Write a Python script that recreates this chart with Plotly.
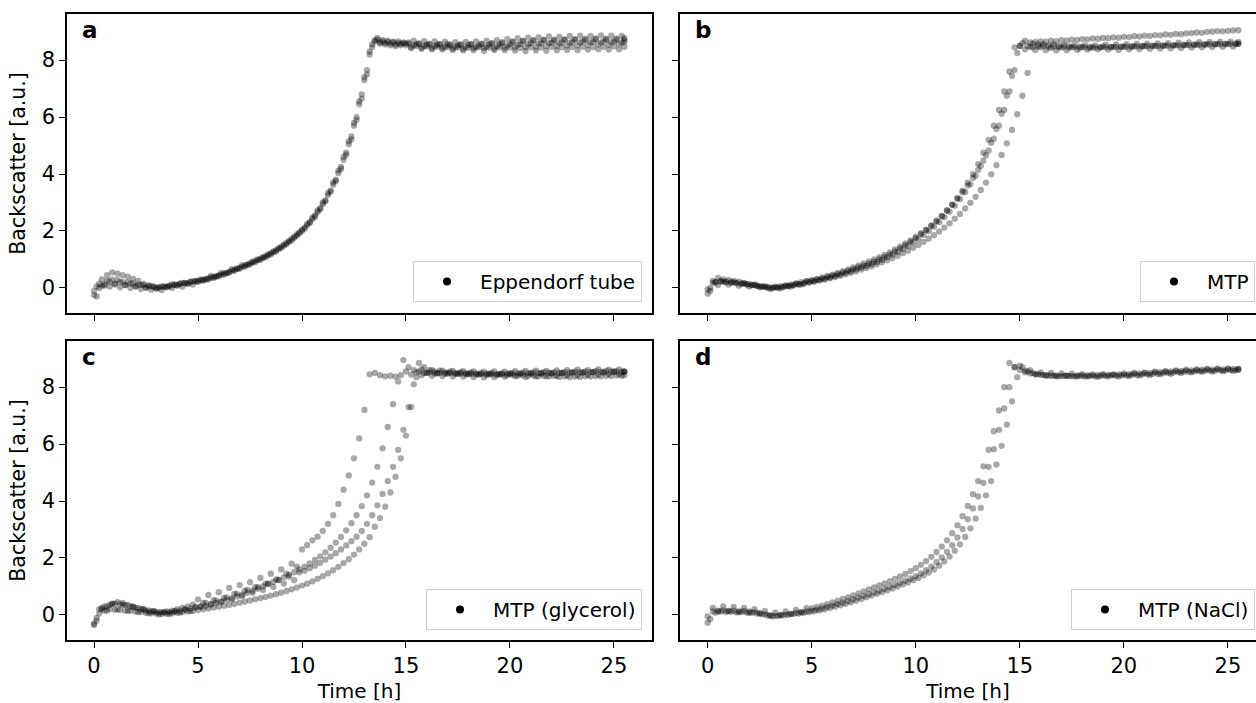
import plotly.graph_objects as go

# ---------------- data ----------------
# measurement times [h] of the first plate read, one row = 2.5 h
TIME_H = [
    0.0, 0.25, 0.5, 0.75, 1.0, 1.25, 1.5, 1.75, 2.0, 2.25,
    2.5, 2.75, 3.0, 3.25, 3.5, 3.75, 4.0, 4.25, 4.5, 4.75,
    5.0, 5.25, 5.5, 5.75, 6.0, 6.25, 6.5, 6.75, 7.0, 7.25,
    7.5, 7.75, 8.0, 8.25, 8.5, 8.75, 9.0, 9.25, 9.5, 9.75,
    10.0, 10.25, 10.5, 10.75, 11.0, 11.25, 11.5, 11.75, 12.0, 12.25,
    12.5, 12.75, 13.0, 13.25, 13.5, 13.75, 14.0, 14.25, 14.5, 14.75,
    15.0, 15.25, 15.5, 15.75, 16.0, 16.25, 16.5, 16.75, 17.0, 17.25,
    17.5, 17.75, 18.0, 18.25, 18.5, 18.75, 19.0, 19.25, 19.5, 19.75,
    20.0, 20.25, 20.5, 20.75, 21.0, 21.25, 21.5, 21.75, 22.0, 22.25,
    22.5, 22.75, 23.0, 23.25, 23.5, 23.75, 24.0, 24.25, 24.5, 24.75,
    25.0, 25.25, 25.5,
]
# measurement times [h] of the second (interleaved) plate read
TIME_H_B = [
    0.125, 0.375, 0.625, 0.875, 1.125, 1.375, 1.625, 1.875, 2.125, 2.375,
    2.625, 2.875, 3.125, 3.375, 3.625, 3.875, 4.125, 4.375, 4.625, 4.875,
    5.125, 5.375, 5.625, 5.875, 6.125, 6.375, 6.625, 6.875, 7.125, 7.375,
    7.625, 7.875, 8.125, 8.375, 8.625, 8.875, 9.125, 9.375, 9.625, 9.875,
    10.125, 10.375, 10.625, 10.875, 11.125, 11.375, 11.625, 11.875, 12.125, 12.375,
    12.625, 12.875, 13.125, 13.375, 13.625, 13.875, 14.125, 14.375, 14.625, 14.875,
    15.125, 15.375, 15.625, 15.875, 16.125, 16.375, 16.625, 16.875, 17.125, 17.375,
    17.625, 17.875, 18.125, 18.375, 18.625, 18.875, 19.125, 19.375, 19.625, 19.875,
    20.125, 20.375, 20.625, 20.875, 21.125, 21.375, 21.625, 21.875, 22.125, 22.375,
    22.625, 22.875, 23.125, 23.375, 23.625, 23.875, 24.125, 24.375, 24.625, 24.875,
    25.125, 25.375, 25.5,
]

# (a) Eppendorf tube replicates
EPP_1 = [
    -0.25, 0.15, 0.08, 0.22, 0.12, 0.2, 0.1, 0.16, 0.05, 0.1,
    0.0, 0.06, -0.03, 0.05, 0.02, 0.12, 0.08, 0.18, 0.14, 0.24,
    0.25, 0.29, 0.34, 0.39, 0.45, 0.51, 0.57, 0.64, 0.71, 0.79,
    0.87, 0.95, 1.03, 1.12, 1.22, 1.33, 1.45, 1.58, 1.72, 1.88,
    2.05, 2.25, 2.47, 2.72, 3.0, 3.33, 3.7, 4.12, 4.6, 5.15,
    5.8, 6.55, 7.4, 8.3, 8.7, 8.62, 8.6, 8.58, 8.55, 8.57,
    8.58, 8.46, 8.56, 8.44, 8.55, 8.42, 8.54, 8.43, 8.56, 8.41,
    8.52, 8.4, 8.53, 8.42, 8.51, 8.43, 8.54, 8.41, 8.55, 8.44,
    8.56, 8.45, 8.57, 8.46, 8.6, 8.47, 8.6, 8.5, 8.61, 8.5,
    8.62, 8.51, 8.64, 8.52, 8.65, 8.53, 8.64, 8.55, 8.66, 8.54,
    8.65, 8.56, 8.64,
]
EPP_2 = [
    0.05, 0.3, 0.45, 0.55, 0.5, 0.45, 0.4, 0.32, 0.25, 0.15,
    0.1, 0.05, 0.02, 0.05, 0.08, 0.12, 0.15, 0.18, 0.22, 0.25,
    0.3, 0.3, 0.42, 0.4, 0.53, 0.52, 0.66, 0.68, 0.8, 0.82,
    0.92, 1.0, 1.08, 1.18, 1.28, 1.4, 1.52, 1.65, 1.8, 1.95,
    2.12, 2.32, 2.55, 2.8, 3.08, 3.42, 3.8, 4.25, 4.75, 5.32,
    6.0, 6.8, 7.65, 8.55, 8.78, 8.7, 8.68, 8.65, 8.66, 8.62,
    8.58, 8.68, 8.56, 8.67, 8.54, 8.66, 8.55, 8.65, 8.52, 8.63,
    8.55, 8.64, 8.56, 8.66, 8.58, 8.68, 8.6, 8.7, 8.63, 8.74,
    8.66, 8.77, 8.68, 8.79, 8.7, 8.8, 8.71, 8.83, 8.72, 8.82,
    8.73, 8.85, 8.74, 8.86, 8.75, 8.85, 8.76, 8.87, 8.75, 8.86,
    8.76, 8.85, 8.77,
]
EPP_3 = [
    -0.1, 0.0, 0.12, 0.05, 0.15, 0.02, 0.1, 0.0, 0.06, -0.04,
    0.02, -0.06, 0.0, -0.07, 0.04, 0.0, 0.1, 0.05, 0.16, 0.12,
    0.21, 0.25, 0.3, 0.35, 0.41, 0.47, 0.53, 0.6, 0.67, 0.74,
    0.82, 0.9, 0.98, 1.07, 1.17, 1.28, 1.4, 1.53, 1.67, 1.83,
    2.0, 2.2, 2.42, 2.66, 2.94, 3.26, 3.62, 4.03, 4.5, 5.05,
    5.7, 6.45, 7.3, 8.2, 8.65, 8.58, 8.55, 8.52, 8.5, 8.52,
    8.52, 8.42, 8.5, 8.4, 8.48, 8.38, 8.47, 8.37, 8.46, 8.36,
    8.45, 8.34, 8.44, 8.35, 8.45, 8.33, 8.44, 8.36, 8.45, 8.35,
    8.44, 8.34, 8.43, 8.32, 8.45, 8.34, 8.44, 8.33, 8.46, 8.35,
    8.45, 8.36, 8.46, 8.35, 8.47, 8.37, 8.46, 8.38, 8.47, 8.37,
    8.48, 8.38, 8.47,
]
EPP_4 = [
    -0.3, 0.08, 0.25, 0.3, 0.28, 0.22, 0.2, 0.16, 0.12, 0.1,
    0.06, 0.03, 0.02, 0.04, 0.07, 0.11, 0.14, 0.17, 0.2, 0.23,
    0.27, 0.31, 0.36, 0.41, 0.47, 0.53, 0.6, 0.67, 0.74, 0.82,
    0.9, 0.98, 1.06, 1.15, 1.25, 1.36, 1.48, 1.62, 1.76, 1.92,
    2.08, 2.28, 2.5, 2.76, 3.04, 3.38, 3.75, 4.18, 4.68, 5.22,
    5.9, 6.65, 7.5, 8.45, 8.72, 8.66, 8.64, 8.62, 8.6, 8.6,
    8.62, 8.52, 8.6, 8.5, 8.58, 8.49, 8.57, 8.47, 8.55, 8.46,
    8.54, 8.45, 8.55, 8.46, 8.56, 8.47, 8.58, 8.49, 8.6, 8.51,
    8.63, 8.54, 8.66, 8.56, 8.68, 8.58, 8.7, 8.6, 8.69, 8.6,
    8.71, 8.61, 8.72, 8.62, 8.71, 8.63, 8.73, 8.62, 8.72, 8.63,
    8.72, 8.62, 8.71,
]

# (b) MTP replicates
MTP_1 = [
    -0.2, 0.18, 0.1, 0.22, 0.12, 0.2, 0.08, 0.16, 0.05, 0.12,
    0.02, 0.06, -0.04, 0.04, -0.01, 0.08, 0.05, 0.15, 0.12, 0.24,
    0.25, 0.29, 0.33, 0.38, 0.43, 0.48, 0.54, 0.6, 0.66, 0.72,
    0.78, 0.85, 0.92, 1.0, 1.09, 1.18, 1.28, 1.39, 1.5, 1.62,
    1.75, 1.89, 2.03, 2.18, 2.34, 2.52, 2.72, 2.93, 3.16, 3.42,
    3.7, 4.0, 4.35, 4.75, 5.2, 5.7, 6.25, 6.9, 7.6, 8.45,
    8.5, 8.38, 8.46, 8.36, 8.45, 8.35, 8.43, 8.34, 8.44, 8.35,
    8.45, 8.36, 8.46, 8.37, 8.45, 8.38, 8.47, 8.37, 8.46, 8.36,
    8.47, 8.38, 8.48, 8.39, 8.49, 8.4, 8.5, 8.41, 8.51, 8.42,
    8.52, 8.43, 8.53, 8.44, 8.54, 8.45, 8.55, 8.46, 8.56, 8.47,
    8.56, 8.48, 8.57,
]
MTP_2 = [
    -0.1, 0.2, 0.25, 0.22, 0.2, 0.18, 0.15, 0.13, 0.1, 0.07,
    0.04, 0.01, -0.01, 0.0, 0.03, 0.06, 0.09, 0.12, 0.16, 0.2,
    0.24, 0.28, 0.32, 0.37, 0.42, 0.47, 0.53, 0.59, 0.65, 0.71,
    0.77, 0.84, 0.91, 0.99, 1.08, 1.17, 1.27, 1.37, 1.48, 1.6,
    1.72, 1.86, 2.0, 2.15, 2.31, 2.49, 2.68, 2.89, 3.12, 3.37,
    3.64, 3.94, 4.28, 4.66, 5.1, 5.58, 6.12, 6.75, 7.45, 8.25,
    8.6, 8.5, 8.58, 8.48, 8.56, 8.46, 8.55, 8.45, 8.53, 8.44,
    8.52, 8.42, 8.53, 8.43, 8.52, 8.44, 8.54, 8.45, 8.55, 8.46,
    8.56, 8.47, 8.57, 8.48, 8.58, 8.49, 8.59, 8.5, 8.6, 8.51,
    8.61, 8.52, 8.62, 8.53, 8.63, 8.54, 8.64, 8.55, 8.65, 8.56,
    8.65, 8.56, 8.64,
]
MTP_3 = [
    -0.05, 0.25, 0.35, 0.3, 0.28, 0.25, 0.22, 0.18, 0.14, 0.1,
    0.06, 0.03, 0.02, 0.03, 0.06, 0.09, 0.12, 0.16, 0.2, 0.24,
    0.28, 0.32, 0.37, 0.42, 0.47, 0.53, 0.59, 0.65, 0.72, 0.79,
    0.86, 0.93, 1.0, 1.08, 1.16, 1.25, 1.35, 1.45, 1.56, 1.67,
    1.79, 1.92, 2.05, 2.2, 2.36, 2.53, 2.72, 2.92, 3.13, 3.36,
    3.6, 3.86, 4.15, 4.47, 4.83, 5.24, 5.7, 6.25, 6.9, 7.65,
    8.5, 8.68, 8.62, 8.64, 8.66, 8.65, 8.68, 8.67, 8.7, 8.69,
    8.72, 8.71, 8.74, 8.73, 8.76, 8.75, 8.78, 8.77, 8.8, 8.79,
    8.82, 8.81, 8.84, 8.83, 8.86, 8.85, 8.88, 8.87, 8.9, 8.89,
    8.92, 8.91, 8.94, 8.95, 8.97, 8.96, 8.99, 9.0, 9.02, 9.01,
    9.03, 9.04, 9.05,
]
MTP_4 = [
    0.0, 0.2, 0.22, 0.2, 0.18, 0.17, 0.15, 0.12, 0.1, 0.08,
    0.05, 0.03, 0.01, 0.02, 0.04, 0.07, 0.1, 0.13, 0.16, 0.19,
    0.22, 0.26, 0.3, 0.34, 0.38, 0.43, 0.48, 0.53, 0.58, 0.64,
    0.7, 0.76, 0.83, 0.9, 0.97, 1.05, 1.13, 1.22, 1.31, 1.41,
    1.51, 1.62, 1.73, 1.85, 1.98, 2.12, 2.27, 2.43, 2.6, 2.79,
    2.99, 3.2, 3.44, 3.7, 3.99, 4.31, 4.67, 5.08, 5.55, 6.1,
    6.75, 7.55, 8.45, 8.55, 8.5, 8.52, 8.48, 8.5, 8.47, 8.49,
    8.46, 8.48, 8.45, 8.47, 8.44, 8.46, 8.45, 8.47, 8.46, 8.48,
    8.47, 8.49, 8.48, 8.5, 8.49, 8.51, 8.5, 8.52, 8.51, 8.53,
    8.52, 8.54, 8.53, 8.55, 8.54, 8.56, 8.55, 8.57, 8.56, 8.58,
    8.57, 8.59, 8.58,
]

# (c) MTP (glycerol) replicates
GLY_1 = [
    -0.3, 0.2, 0.3, 0.35, 0.4, 0.38, 0.35, 0.3, 0.25, 0.2,
    0.15, 0.12, 0.1, 0.1, 0.12, 0.15, 0.2, 0.25, 0.3, 0.36,
    0.55, 0.42, 0.7, 0.52, 0.8, 0.6, 0.95, 0.75, 1.05, 0.85,
    1.15, 0.98, 1.3, 1.1, 1.45, 1.25, 1.6, 1.45, 1.8, 1.7,
    2.3, 2.45, 2.62, 2.75, 2.95, 3.2, 3.5, 3.9, 4.4, 4.9,
    5.5, 6.2, 7.2, 8.45, 8.5, 8.42, 8.38, 8.4, 8.37, 8.42,
    8.55, 8.44, 8.52, 8.42, 8.5, 8.4, 8.49, 8.39, 8.5, 8.38,
    8.48, 8.37, 8.47, 8.36, 8.46, 8.35, 8.47, 8.36, 8.46, 8.37,
    8.48, 8.38, 8.49, 8.36, 8.48, 8.37, 8.5, 8.39, 8.49, 8.4,
    8.5, 8.41, 8.52, 8.42, 8.51, 8.43, 8.53, 8.44, 8.52, 8.45,
    8.54, 8.45, 8.53,
]
GLY_2 = [
    -0.2, 0.25, 0.15, 0.38, 0.2, 0.35, 0.15, 0.28, 0.1, 0.2,
    0.06, 0.14, 0.02, 0.1, 0.03, 0.13, 0.08, 0.2, 0.14, 0.28,
    0.28, 0.32, 0.37, 0.42, 0.47, 0.53, 0.59, 0.65, 0.71, 0.78,
    0.85, 0.92, 1.0, 1.08, 1.16, 1.24, 1.32, 1.41, 1.5, 1.6,
    1.7, 1.81, 1.93, 2.06, 2.2, 2.36, 2.54, 2.74, 2.97, 3.22,
    3.5, 3.82, 4.2, 4.65, 5.2, 5.85, 6.6, 7.4, 8.2, 8.95,
    8.7, 8.6, 8.55, 8.5, 8.52, 8.48, 8.5, 8.47, 8.5, 8.46,
    8.48, 8.45, 8.47, 8.44, 8.46, 8.43, 8.45, 8.42, 8.44, 8.41,
    8.43, 8.4, 8.42, 8.39, 8.41, 8.38, 8.4, 8.37, 8.39, 8.36,
    8.38, 8.35, 8.37, 8.36, 8.38, 8.37, 8.39, 8.38, 8.4, 8.39,
    8.41, 8.4, 8.42,
]
GLY_3 = [
    -0.35, 0.05, 0.15, 0.2, 0.18, 0.17, 0.15, 0.14, 0.12, 0.1,
    0.08, 0.06, 0.04, 0.03, 0.04, 0.06, 0.08, 0.1, 0.12, 0.14,
    0.17, 0.2, 0.23, 0.26, 0.29, 0.32, 0.35, 0.39, 0.43, 0.47,
    0.51, 0.55, 0.59, 0.63, 0.68, 0.73, 0.78, 0.84, 0.9, 0.96,
    1.03, 1.1, 1.18, 1.27, 1.36, 1.46, 1.57, 1.69, 1.82, 1.96,
    2.12, 2.3, 2.5, 2.73, 3.1, 3.4, 3.8, 4.3, 4.85, 5.5,
    6.3, 7.3, 8.35, 8.62, 8.5, 8.6, 8.48, 8.58, 8.47, 8.57,
    8.46, 8.56, 8.45, 8.55, 8.44, 8.54, 8.45, 8.55, 8.46, 8.54,
    8.47, 8.56, 8.46, 8.57, 8.48, 8.58, 8.47, 8.57, 8.49, 8.59,
    8.5, 8.6, 8.51, 8.61, 8.52, 8.6, 8.53, 8.62, 8.52, 8.61,
    8.54, 8.62, 8.55,
]
GLY_4 = [
    -0.1, 0.2, 0.3, 0.4, 0.45, 0.42, 0.35, 0.3, 0.25, 0.2,
    0.16, 0.12, 0.1, 0.09, 0.1, 0.12, 0.15, 0.18, 0.22, 0.26,
    0.3, 0.42, 0.38, 0.5, 0.46, 0.62, 0.55, 0.74, 0.66, 0.88,
    0.78, 0.98, 0.88, 1.1, 0.98, 1.22, 1.1, 1.35, 1.22, 1.5,
    1.55, 1.64, 1.73, 1.83, 1.94, 2.05, 2.17, 2.3, 2.44, 2.59,
    2.75, 2.95, 3.2, 3.5, 3.85, 4.25, 4.7, 5.2, 5.8, 6.5,
    7.3, 8.1, 8.85, 8.7, 8.6, 8.55, 8.58, 8.52, 8.55, 8.5,
    8.53, 8.49, 8.52, 8.48, 8.5, 8.47, 8.5, 8.46, 8.49, 8.47,
    8.5, 8.48, 8.51, 8.49, 8.52, 8.5, 8.53, 8.51, 8.52, 8.5,
    8.53, 8.51, 8.54, 8.52, 8.55, 8.53, 8.56, 8.54, 8.57, 8.55,
    8.56, 8.54, 8.55,
]

# (d) MTP (NaCl) replicates
NACL_1 = [
    -0.27, 0.12, 0.15, 0.16, 0.14, 0.15, 0.13, 0.14, 0.12, 0.1,
    0.06, 0.02, -0.02, -0.03, -0.01, 0.02, 0.04, 0.07, 0.09, 0.12,
    0.15, 0.19, 0.23, 0.28, 0.33, 0.38, 0.43, 0.49, 0.55, 0.61,
    0.67, 0.73, 0.79, 0.85, 0.92, 0.99, 1.06, 1.13, 1.2, 1.28,
    1.36, 1.46, 1.57, 1.7, 1.85, 2.02, 2.22, 2.45, 2.72, 3.02,
    3.36, 3.74, 4.16, 4.64, 5.2, 5.82, 6.5, 7.25, 8.0, 8.7,
    8.75, 8.58, 8.6, 8.45, 8.52, 8.4, 8.5, 8.38, 8.48, 8.4,
    8.47, 8.37, 8.46, 8.38, 8.45, 8.36, 8.46, 8.38, 8.45, 8.37,
    8.48, 8.39, 8.5, 8.41, 8.51, 8.43, 8.54, 8.45, 8.56, 8.47,
    8.59, 8.5, 8.61, 8.52, 8.62, 8.54, 8.64, 8.55, 8.65, 8.56,
    8.66, 8.57, 8.65,
]
NACL_2 = [
    -0.15, 0.08, 0.12, 0.1, 0.11, 0.09, 0.1, 0.08, 0.07, 0.05,
    0.02, -0.02, -0.05, -0.04, -0.02, 0.0, 0.03, 0.05, 0.08, 0.1,
    0.13, 0.16, 0.2, 0.24, 0.29, 0.34, 0.39, 0.44, 0.5, 0.56,
    0.62, 0.68, 0.74, 0.8, 0.86, 0.93, 1.0, 1.07, 1.14, 1.22,
    1.3, 1.39, 1.49, 1.6, 1.73, 1.88, 2.05, 2.25, 2.48, 2.74,
    3.04, 3.38, 3.76, 4.2, 4.7, 5.28, 5.94, 6.68, 7.5, 8.35,
    8.7, 8.55, 8.5, 8.46, 8.43, 8.41, 8.4, 8.38, 8.4, 8.39,
    8.38, 8.4, 8.37, 8.39, 8.38, 8.4, 8.39, 8.41, 8.4, 8.42,
    8.41, 8.43, 8.42, 8.44, 8.45, 8.46, 8.47, 8.49, 8.5, 8.51,
    8.52, 8.54, 8.53, 8.55, 8.56, 8.57, 8.58, 8.57, 8.59, 8.58,
    8.6, 8.59, 8.6,
]
NACL_3 = [
    -0.05, 0.25, 0.12, 0.3, 0.14, 0.28, 0.1, 0.25, 0.08, 0.2,
    0.05, 0.14, -0.02, 0.08, 0.0, 0.12, 0.04, 0.18, 0.1, 0.24,
    0.24, 0.28, 0.33, 0.38, 0.44, 0.5, 0.56, 0.62, 0.69, 0.76,
    0.83, 0.9, 0.97, 1.04, 1.11, 1.19, 1.27, 1.35, 1.44, 1.54,
    1.64, 1.76, 1.89, 2.04, 2.21, 2.4, 2.62, 2.87, 3.15, 3.47,
    3.83, 4.24, 4.7, 5.22, 5.8, 6.45, 7.18, 8.0, 8.85, 8.7,
    8.6, 8.52, 8.48, 8.45, 8.43, 8.42, 8.4, 8.41, 8.39, 8.4,
    8.39, 8.41, 8.4, 8.42, 8.41, 8.43, 8.42, 8.44, 8.43, 8.45,
    8.44, 8.46, 8.47, 8.48, 8.49, 8.5, 8.52, 8.53, 8.54, 8.55,
    8.56, 8.57, 8.58, 8.59, 8.6, 8.61, 8.62, 8.61, 8.63, 8.62,
    8.63, 8.64, 8.63,
]

PANEL_LETTERS = ["a", "b", "c", "d"]
LEGEND_LABELS = ["Eppendorf tube", "MTP", "MTP (glycerol)", "MTP (NaCl)"]
# (time grid, values) per replicate, per panel
PANEL_SERIES = [
    [(TIME_H, EPP_1), (TIME_H_B, EPP_2), (TIME_H, EPP_3), (TIME_H_B, EPP_4)],
    [(TIME_H, MTP_1), (TIME_H_B, MTP_2), (TIME_H, MTP_3), (TIME_H_B, MTP_4)],
    [(TIME_H, GLY_1), (TIME_H_B, GLY_2), (TIME_H, GLY_3), (TIME_H_B, GLY_4)],
    [(TIME_H, NACL_1), (TIME_H_B, NACL_2), (TIME_H, NACL_3)],
]
Y_TICKS = [0, 2, 4, 6, 8]
X_TICKS = [0, 5, 10, 15, 20, 25]
X_TITLE = "Time [h]"
Y_TITLE = "Backscatter [a.u.]"

# ---------------- layout geometry ----------------
W, H = 1256, 703
FONT = "DejaVu Sans"


def px_x(a, b):
    return [a / W, min(b / W, 1.0)]


def px_y(top, bottom):
    return [1 - bottom / H, 1 - top / H]


DOM = [
    (px_x(67, 652), px_y(14, 313)),
    (px_x(680, 1256), px_y(14, 313)),
    (px_x(67, 652), px_y(341, 640)),
    (px_x(680, 1256), px_y(341, 640)),
]
XR_LEFT = [-1.3, 26.83]
XR_RIGHT = [-1.33, 26.35]
YR = [-0.88, 9.62]

fig = go.Figure()

for i, series in enumerate(PANEL_SERIES):
    xa = "x" if i == 0 else f"x{i + 1}"
    ya = "y" if i == 0 else f"y{i + 1}"
    lg = "legend" if i == 0 else f"legend{i + 1}"
    for tt, s in series:
        fig.add_trace(go.Scatter(
            x=tt, y=s, mode="markers", xaxis=xa, yaxis=ya,
            marker=dict(color="black", size=6.3, opacity=0.34, line=dict(width=0)),
            showlegend=False, hoverinfo="skip",
        ))
    fig.add_trace(go.Scatter(
        x=[None], y=[None], mode="markers", xaxis=xa, yaxis=ya,
        marker=dict(color="black", size=8), name=LEGEND_LABELS[i],
        legend=lg, showlegend=True,
    ))

axis_common = dict(
    showline=True, linecolor="black", linewidth=1.6,
    ticks="outside", ticklen=6, tickwidth=1.4, tickcolor="black",
    showgrid=False, zeroline=False,
    tickfont=dict(family=FONT, size=21, color="black"),
    automargin=False,
)

layout = dict(
    width=W, height=H,
    margin=dict(l=0, r=0, t=0, b=0),
    paper_bgcolor="white", plot_bgcolor="white",
    font=dict(family=FONT, color="black"),
)

for i in range(4):
    xd, yd = DOM[i]
    right = i in (1, 3)
    bottom = i in (2, 3)
    xkey = "xaxis" if i == 0 else f"xaxis{i + 1}"
    ykey = "yaxis" if i == 0 else f"yaxis{i + 1}"
    xa = "x" if i == 0 else f"x{i + 1}"
    ya = "y" if i == 0 else f"y{i + 1}"
    xax = dict(axis_common, domain=xd, anchor=ya,
               range=XR_RIGHT if right else XR_LEFT,
               tickvals=X_TICKS, showticklabels=bottom, mirror=True)
    if bottom:
        xax["title"] = dict(text=X_TITLE, font=dict(family=FONT, size=20, color="black"), standoff=9)
    yax = dict(axis_common, domain=yd, anchor=xa, range=YR,
               tickvals=Y_TICKS, showticklabels=not right, mirror=not right)
    if not right:
        yax["title"] = dict(text=Y_TITLE, font=dict(family=FONT, size=20.5, color="black"), standoff=10)
    layout[xkey] = xax
    layout[ykey] = yax

# legends (lower right inside each panel)
LEG_POS = [(642, 302), (1255, 302), (642, 630), (1255, 630)]
for i in range(4):
    lkey = "legend" if i == 0 else f"legend{i + 1}"
    lx, ly = LEG_POS[i]
    layout[lkey] = dict(
        x=lx / W, y=1 - ly / H, xanchor="right", yanchor="bottom",
        bgcolor="rgba(255,255,255,0.8)", bordercolor="#d0d0d0", borderwidth=1,
        font=dict(family=FONT, size=20, color="black"),
        itemwidth=56, itemclick=False, itemdoubleclick=False,
    )

annotations = []
for i, letter in enumerate(PANEL_LETTERS):
    xa = "x" if i == 0 else f"x{i + 1}"
    ya = "y" if i == 0 else f"y{i + 1}"
    annotations.append(dict(
        text=f"<b>{letter}</b>", xref=f"{xa} domain", yref=f"{ya} domain",
        x=0.022 if i in (0, 2) else 0.022 * 585 / 576, y=0.9465,
        xanchor="left", yanchor="middle", showarrow=False,
        font=dict(family=FONT, size=23, color="black"),
    ))
layout["annotations"] = annotations

fig.update_layout(**layout)
fig.write_html(
    "out.html",
    config={"displayModeBar": False},
    post_script="document.body.style.margin='0px';",
)
